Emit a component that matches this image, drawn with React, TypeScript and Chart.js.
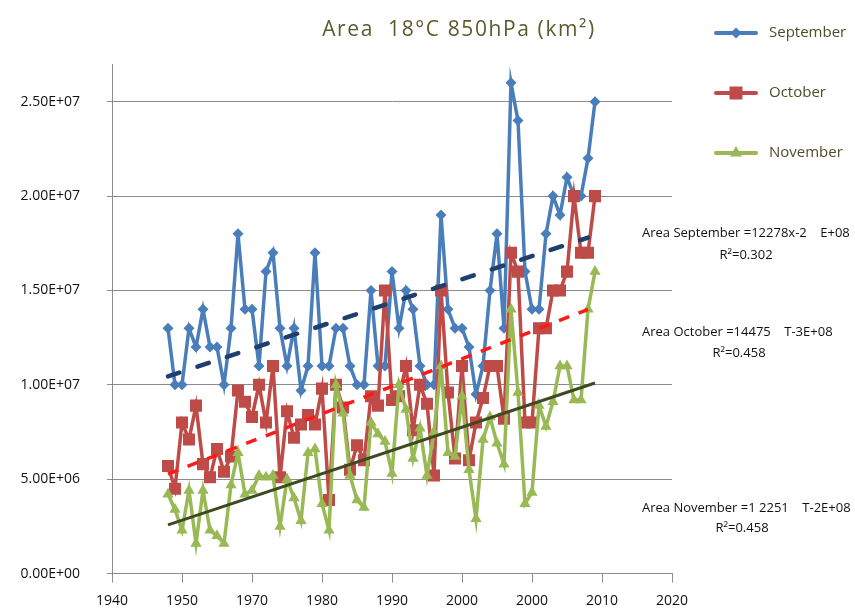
import React, { useEffect, useRef } from "react";
import { Chart, registerables } from "chart.js";

Chart.register(...registerables);

const years = [
  1948, 1949, 1950, 1951, 1952, 1953, 1954, 1955, 1956, 1957,
  1958, 1959, 1960, 1961, 1962, 1963, 1964, 1965, 1966, 1967,
  1968, 1969, 1970, 1971, 1972, 1973, 1974, 1975, 1976, 1977,
  1978, 1979, 1980, 1981, 1982, 1983, 1984, 1985, 1986, 1987,
  1988, 1989, 1990, 1991, 1992, 1993, 1994, 1995, 1996, 1997,
  1998, 1999, 2000, 2001, 2002, 2003, 2004, 2005, 2006, 2007,
  2008, 2009,
];

const september = [
  1.3e7, 1.0e7, 1.0e7, 1.3e7, 1.2e7, 1.4e7, 1.2e7, 1.2e7, 1.0e7, 1.3e7,
  1.8e7, 1.4e7, 1.4e7, 1.1e7, 1.6e7, 1.7e7, 1.3e7, 1.1e7, 1.3e7, 0.97e7,
  1.1e7, 1.7e7, 1.1e7, 1.1e7, 1.3e7, 1.3e7, 1.1e7, 1.0e7, 1.0e7, 1.5e7,
  1.1e7, 1.1e7, 1.6e7, 1.3e7, 1.5e7, 1.4e7, 1.1e7, 1.0e7, 1.0e7, 1.9e7,
  1.4e7, 1.3e7, 1.3e7, 1.2e7, 0.95e7, 1.1e7, 1.5e7, 1.8e7, 1.3e7, 2.6e7,
  2.4e7, 1.6e7, 1.4e7, 1.4e7, 1.8e7, 2.0e7, 1.9e7, 2.1e7, 2.0e7, 2.0e7,
  2.2e7, 2.5e7,
];

const october = [
  5.7e6, 4.5e6, 8.0e6, 7.1e6, 8.9e6, 5.8e6, 5.1e6, 6.6e6, 5.4e6, 6.2e6,
  9.7e6, 9.1e6, 8.3e6, 1.0e7, 8.0e6, 1.1e7, 5.1e6, 8.6e6, 7.2e6, 7.9e6,
  8.4e6, 7.9e6, 9.8e6, 3.9e6, 1.0e7, 8.8e6, 5.5e6, 6.8e6, 6.0e6, 9.4e6,
  8.9e6, 1.5e7, 9.2e6, 9.4e6, 1.1e7, 7.6e6, 1.0e7, 9.0e6, 5.2e6, 1.5e7,
  9.6e6, 6.1e6, 1.1e7, 6.0e6, 8.0e6, 9.3e6, 1.1e7, 1.1e7, 8.2e6, 1.7e7,
  1.6e7, 8.0e6, 8.0e6, 1.3e7, 1.3e7, 1.5e7, 1.5e7, 1.6e7, 2.0e7, 1.7e7,
  1.7e7, 2.0e7,
];

const november = [
  4.2e6, 3.4e6, 2.3e6, 4.4e6, 1.6e6, 4.4e6, 2.3e6, 2.0e6, 1.6e6, 4.7e6,
  6.4e6, 4.2e6, 4.4e6, 5.2e6, 5.1e6, 5.2e6, 2.5e6, 5.0e6, 4.0e6, 2.8e6,
  6.4e6, 6.6e6, 3.7e6, 2.3e6, 1.0e7, 8.5e6, 5.2e6, 3.9e6, 3.5e6, 8.0e6,
  7.4e6, 7.0e6, 5.3e6, 1.0e7, 8.7e6, 6.1e6, 7.7e6, 5.2e6, 7.5e6, 1.1e7,
  6.4e6, 6.2e6, 9.4e6, 5.5e6, 2.9e6, 7.1e6, 8.3e6, 6.9e6, 5.8e6, 1.4e7,
  9.6e6, 3.7e6, 4.3e6, 8.9e6, 7.8e6, 9.1e6, 1.1e7, 1.1e7, 9.2e6, 9.2e6,
  1.4e7, 1.6e7,
];

// Trend lines (end points)
const trendSeptemberYears = [1948, 2008];
const trendSeptember = [1.045e7, 1.78e7];
const trendOctoberYears = [1948, 2008];
const trendOctober = [5.27e6, 1.4e7];
const trendNovemberYears = [1948, 2009];
const trendNovember = [2.58e6, 1.01e7];

const yTickValues = [0, 5e6, 1e7, 1.5e7, 2e7, 2.5e7];
const xTickLabels = ["1940", "1950", "1970", "1980", "1990", "2000", "2000", "2010", "2020"];
const seriesLabels = ["September", "October", "November"];
const titleText = "Area  18°C 850hPa (km²)";
const equationLines = [
  "Area September =12278x-2    E+08",
  "Area October =14475    T-3E+08",
  "Area November =1 2251    T-2E+08",
];
const r2Lines = ["R²=0.302", "R²=0.458", "R²=0.458"];

const BLUE = "#4A7EBB";
const RED = "#BE4B48";
const GREEN = "#98B954";
const FONT = "'Open Sans', 'Noto Sans', sans-serif";

function sci(v: number): string {
  if (v === 0) return "0.00E+00";
  const exp = Math.floor(Math.log10(Math.abs(v)) + 1e-9);
  const mant = v / Math.pow(10, exp);
  return mant.toFixed(2) + "E+" + String(exp).padStart(2, "0");
}

function pts(xs: number[], ys: number[]) {
  return xs.map((x, i) => ({ x, y: ys[i] }));
}

function drawMarker(ctx: CanvasRenderingContext2D, kind: string, x: number, y: number, color: string) {
  ctx.fillStyle = color;
  ctx.beginPath();
  if (kind === "diamond") {
    const r = 5.5;
    ctx.moveTo(x, y - r);
    ctx.lineTo(x + r, y);
    ctx.lineTo(x, y + r);
    ctx.lineTo(x - r, y);
  } else if (kind === "square") {
    const s = 6.5;
    ctx.rect(x - s, y - s, 2 * s, 2 * s);
  } else {
    const r = 7;
    ctx.moveTo(x, y - r);
    ctx.lineTo(x + r * 0.866, y + r * 0.5);
    ctx.lineTo(x - r * 0.866, y + r * 0.5);
  }
  ctx.closePath();
  ctx.fill();
}

const overlayPlugin = {
  id: "overlay",
  afterDraw(chart: any) {
    const ctx: CanvasRenderingContext2D = chart.ctx;
    ctx.save();
    // Title
    ctx.font = `21px ${FONT}`;
    (ctx as any).letterSpacing = "1.6px";
    ctx.fillStyle = "#5B5B2E";
    ctx.textAlign = "center";
    ctx.textBaseline = "middle";
    ctx.fillText(titleText, 459, 30);
    (ctx as any).letterSpacing = "0px";

    // Legend
    const colors = [BLUE, RED, GREEN];
    const kinds = ["diamond", "square", "triangle"];
    const legendY = [33, 93, 153];
    for (let i = 0; i < 3; i++) {
      const y = legendY[i];
      ctx.strokeStyle = colors[i];
      ctx.lineWidth = 4;
      ctx.lineCap = "round";
      ctx.beginPath();
      ctx.moveTo(716, y);
      ctx.lineTo(756, y);
      ctx.stroke();
      drawMarker(ctx, kinds[i], 736, y, colors[i]);
      ctx.font = `15px ${FONT}`;
      ctx.fillStyle = "#4E4E28";
      ctx.textAlign = "left";
      ctx.textBaseline = "middle";
      ctx.fillText(seriesLabels[i], 769, y);
    }

    // Trend equations
    const eqY = [233, 332, 508];
    const r2Y = [255, 353, 528];
    const r2X = [746, 739, 742];
    ctx.fillStyle = "#111";
    ctx.font = `13px ${FONT}`;
    for (let i = 0; i < 3; i++) {
      ctx.textAlign = "left";
      ctx.fillText(equationLines[i], 642, eqY[i]);
      ctx.textAlign = "center";
      ctx.fillText(r2Lines[i], r2X[i], r2Y[i]);
    }
    ctx.restore();
  },
};

export default function App() {
  const ref = useRef<HTMLCanvasElement | null>(null);

  useEffect(() => {
    const canvas = ref.current;
    if (!canvas) return;
    const chart = new Chart(canvas, {
      type: "line",
      data: {
        datasets: [
          {
            label: "trendSep",
            data: pts(trendSeptemberYears, trendSeptember),
            borderColor: "#1F3F6E",
            borderWidth: 4.5,
            borderDash: [12, 19],
            borderCapStyle: "round",
            pointRadius: 0,
            order: 0,
          } as any,
          {
            label: "trendOct",
            data: pts(trendOctoberYears, trendOctober),
            borderColor: "#FF1A1A",
            borderWidth: 3.5,
            borderDash: [11, 10],
            pointRadius: 0,
            order: 0,
          },
          {
            label: "trendNov",
            data: pts(trendNovemberYears, trendNovember),
            borderColor: "#3D4A22",
            borderWidth: 3,
            pointRadius: 0,
            order: 0,
          },
          {
            label: seriesLabels[2],
            data: pts(years, november),
            borderColor: GREEN,
            backgroundColor: GREEN,
            borderWidth: 3.5,
            pointStyle: "triangle",
            pointRadius: 6.5,
            pointBorderWidth: 0,
            order: 1,
          },
          {
            label: seriesLabels[1],
            data: pts(years, october),
            borderColor: RED,
            backgroundColor: RED,
            borderWidth: 3.5,
            pointStyle: "rect",
            pointRadius: 8.5,
            pointBorderWidth: 0,
            order: 2,
          },
          {
            label: seriesLabels[0],
            data: pts(years, september),
            borderColor: BLUE,
            backgroundColor: BLUE,
            borderWidth: 3.5,
            pointStyle: "rectRot",
            pointRadius: 5.5,
            pointBorderWidth: 0,
            order: 3,
          },
        ],
      },
      options: {
        responsive: false,
        animation: false,
        layout: { padding: { left: 0, right: 183, top: 64, bottom: 0 } },
        plugins: {
          legend: { display: false },
          title: { display: false },
          tooltip: { enabled: false },
        },
        scales: {
          x: {
            type: "linear",
            min: 1940,
            max: 2020,
            afterFit: (s: any) => {
              s.height = 33;
            },
            ticks: {
              stepSize: 10,
              autoSkip: false,
              maxRotation: 0,
              padding: 10,
              color: "#111",
              font: { family: FONT, size: 14 },
              callback: (_v: any, i: number) => xTickLabels[i] ?? "",
            },
            grid: {
              drawOnChartArea: false,
              drawTicks: true,
              tickLength: 9,
              color: "#8C8C8C",
            },
            border: { color: "#8C8C8C", width: 1 },
          },
          y: {
            type: "linear",
            min: 0,
            max: 2.7e7,
            afterFit: (s: any) => {
              s.width = 112;
            },
            afterBuildTicks: (s: any) => {
              s.ticks = yTickValues.map((v) => ({ value: v }));
            },
            ticks: {
              autoSkip: false,
              padding: 27,
              color: "#111",
              font: { family: FONT, size: 14 },
              callback: (v: any) => sci(Number(v)),
            },
            grid: {
              color: "#8C8C8C",
              lineWidth: 1,
              tickLength: 5,
            },
            border: { color: "#8C8C8C", width: 1 },
          },
        },
      },
      plugins: [overlayPlugin],
    });
    return () => chart.destroy();
  }, []);

  return (
    <div style={{ position: "fixed", left: 0, top: 0, width: 855, height: 609, background: "#fff" }}>
      <canvas ref={ref} width={855} height={609} style={{ display: "block" }} />
    </div>
  );
}
